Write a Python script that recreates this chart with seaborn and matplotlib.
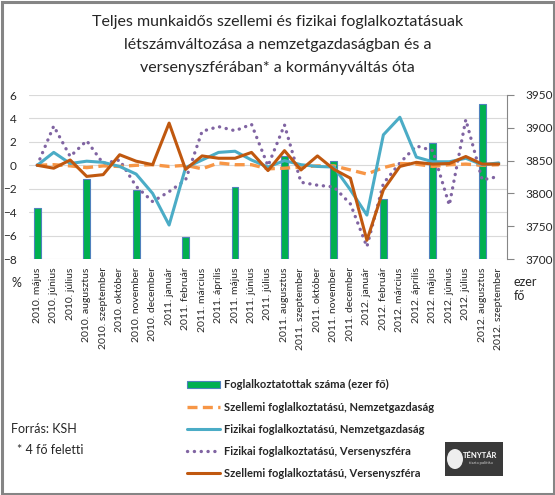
import matplotlib
matplotlib.use('Agg')
import matplotlib.pyplot as plt
import matplotlib.patches as mpatches
from matplotlib.lines import Line2D
import seaborn as sns
import numpy as np
import pandas as pd

sns.set_style('white')
plt.rcParams['font.family'] = ['Lato', 'DejaVu Sans']

# hónapok (kategóriák)
months = ['2010. május', '2010. június', '2010. július', '2010. augusztus', '2010. szeptember',
          '2010. október', '2010. november', '2010. december', '2011. január', '2011. február',
          '2011. március', '2011. április', '2011. május', '2011. június', '2011. július',
          '2011. augusztus', '2011. szeptember', '2011. október', '2011. november', '2011. december',
          '2012. január', '2012. február', '2012. március', '2012. április', '2012. május',
          '2012. június', '2012. július', '2012. augusztus', '2012. szeptember']

# létszámváltozás, % (bal tengely)
szellemi_nemzet = [0, 0.05, -0.05, -0.2, -0.05, -0.1, 0, 0.05, -0.1, 0, -0.3, 0.2, 0.05, 0.05, -0.3,
                   -0.25, -0.15, -0.05, -0.05, -0.4, -0.75, -0.2, 0.15, 0.1, -0.1, 0.05, 0.1, 0, 0.05]
fizikai_nemzet = [0, 1.1, 0.15, 0.35, 0.25, -0.1, -0.75, -2.4, -5.1, -0.2, 0.45, 1.1, 1.2, 0.45, -0.15,
                  0.4, 0.05, -0.1, -0.15, -2.1, -4.25, 2.6, 4.1, 0.7, 0.3, 0.3, 0.6, 0.05, 0.2]
fizikai_verseny = [0, 3.35, 0.75, 2.1, 0.15, 0.45, -1.8, -3.1, -2.25, -1.25, 2.9, 3.3, 2.95, 3.5, -0.05,
                   3.45, -1.45, -1.7, -1.85, -3.3, -6.95, -1.55, 0.2, 1.65, 1.25, -3.4, 3.9, -1.25, -0.95]
szellemi_verseny = [0, -0.25, 0.45, -0.95, -0.8, 0.9, 0.35, 0.05, 3.6, -0.35, 0.8, 0.6, 0.6, 1.1, -0.45,
                    1.25, -0.4, 0.8, -0.35, -1.1, -6.4, -2.1, -0.1, 0.25, 0.1, 0.15, 0.75, 0.1, 0.1]

# foglalkoztatottak száma, ezer fő (jobb tengely) - negyedévente
bar_months = ['2010. május', '2010. augusztus', '2010. november', '2011. február', '2011. május',
              '2011. augusztus', '2011. november', '2012. február', '2012. május', '2012. augusztus']
employed = [3778, 3822, 3805, 3733, 3809, 3857, 3850, 3791, 3877, 3936]

labels = ['Foglalkoztatottak száma (ezer fő)',
          'Szellemi foglalkoztatású, Nemzetgazdaság',
          'Fizikai foglalkoztatású, Nemzetgazdaság',
          'Fizikai foglalkoztatású, Versenyszféra',
          'Szellemi foglalkoztatású, Versenyszféra']

c_bar, c_edge = '#00b050', '#4f81bd'
c_dash, c_teal, c_purple, c_brown = '#f79646', '#4bacc6', '#8064a2', '#c0580f'

fig = plt.figure(figsize=(5.55, 4.95), dpi=100)
ax = fig.add_axes([29 / 555, 1 - 259 / 495, 478 / 555, 164 / 495])
ax2 = ax.twinx()   # oszlopok
ax3 = ax.twinx()   # vonalak (legfelül)

# rács a bal tengelyhez
ax.set_ylim(-8, 6)
ax.set_yticks(np.arange(-8, 7, 2))
ax.grid(axis='y', color='#d9d9d9', linewidth=0.8)
ax.grid(axis='x', visible=False)
for s in ax.spines.values():
    s.set_visible(False)
ax.tick_params(axis='y', length=0, pad=9, labelsize=8.5)

# oszlopok
bars = pd.DataFrame({'honap': bar_months, 'ertek': employed})
sns.barplot(data=bars, x='honap', y='ertek', order=months, ax=ax2, color=c_bar,
            edgecolor=c_edge, linewidth=0.8, width=0.42, saturation=1)
ax2.set_ylim(3700, 3950)
ax2.set_yticks(np.arange(3700, 3951, 50))
ax2.set_ylabel('')
ax2.set_xlabel('')
for k, s in ax2.spines.items():
    s.set_visible(k == 'right')
ax2.spines['right'].set_color('#868686')
ax2.tick_params(axis='y', length=5, color='#868686', direction='out', pad=8, labelsize=8.5)

# vonalak
x = np.arange(len(months))
sns.lineplot(x=x, y=fizikai_verseny, ax=ax3, color=c_purple, linewidth=2.4,
             linestyle=(0, (0.05, 2.0)), dash_capstyle='round')
sns.lineplot(x=x, y=szellemi_nemzet, ax=ax3, color=c_dash, linewidth=2.4,
             linestyle=(0, (3, 1.6)))
sns.lineplot(x=x, y=fizikai_nemzet, ax=ax3, color=c_teal, linewidth=2.2)
sns.lineplot(x=x, y=szellemi_verseny, ax=ax3, color=c_brown, linewidth=2.2)
ax3.set_ylim(-8, 6)
ax3.set_axis_off()

ax.set_xlim(-0.5, len(months) - 0.5)
ax.set_xticks(x)
ax.set_xticklabels(months, rotation=90, fontsize=7.5)
ax.tick_params(axis='x', length=0, pad=6)

# cím és feliratok
fig.text(0.5, 1 - 22 / 495, 'Teljes munkaidős szellemi és fizikai foglalkoztatásuak',
         ha='center', va='center', fontsize=11.5, color='#262626')
fig.text(0.5, 1 - 45 / 495, 'létszámváltozása a nemzetgazdaságban és a',
         ha='center', va='center', fontsize=11.5, color='#262626')
fig.text(0.5, 1 - 68 / 495, 'versenyszférában* a kormányváltás óta',
         ha='center', va='center', fontsize=11.5, color='#262626')
fig.text(12 / 555, 1 - 283 / 495, '%', ha='left', va='center', fontsize=9)
fig.text(514 / 555, 1 - 289 / 495, 'ezer\nfő', ha='left', va='center', fontsize=9,
         linespacing=1.1)
fig.text(11 / 555, 1 - 429 / 495, 'Forrás: KSH', ha='left', va='center', fontsize=9)
fig.text(17 / 555, 1 - 450 / 495, '* 4 fő feletti', ha='left', va='center', fontsize=9)

# jelmagyarázat
handles = [mpatches.Patch(facecolor=c_bar, edgecolor=c_edge, linewidth=0.8),
           Line2D([], [], color=c_dash, lw=2.4, linestyle=(0, (3, 1.6))),
           Line2D([], [], color=c_teal, lw=2.2),
           Line2D([], [], color=c_purple, lw=2.4, linestyle=(0, (0.05, 2.0)), dash_capstyle='round'),
           Line2D([], [], color=c_brown, lw=2.2)]
leg = fig.legend(handles, labels, loc='upper left', bbox_to_anchor=(183 / 555, 1 - 375 / 495),
                 frameon=False, fontsize=8, handlelength=2.9, handleheight=0.5,
                 handletextpad=0.4, labelspacing=1.0, borderaxespad=0)
for t in leg.get_texts():
    t.set_fontweight('bold')
    t.set_color('#262626')

# logó
fig.patches.append(mpatches.Rectangle((445 / 555, 1 - 476 / 495), 58 / 555, 34 / 495,
                                      transform=fig.transFigure, facecolor='#3a3a3a',
                                      edgecolor='none'))
fig.patches.append(mpatches.Ellipse((455 / 555, 1 - 459 / 495), 16 / 555, 20 / 495,
                                    transform=fig.transFigure, facecolor='#eeeeee',
                                    edgecolor='none'))
fig.text(480 / 555, 1 - 455 / 495, 'TÉNYTÁR', ha='center', va='center', fontsize=5.5,
         color='white', fontweight='bold')
fig.text(481 / 555, 1 - 463 / 495, 'tiszta politika', ha='center', va='center', fontsize=3,
         color='#cccccc')

# keret
fig.patches.append(mpatches.Rectangle((1.5 / 555, 1.5 / 495), 552 / 555, 492 / 495,
                                      transform=fig.transFigure, fill=False,
                                      edgecolor='#858585', linewidth=2.2))

fig.savefig('out.png', dpi=100)
